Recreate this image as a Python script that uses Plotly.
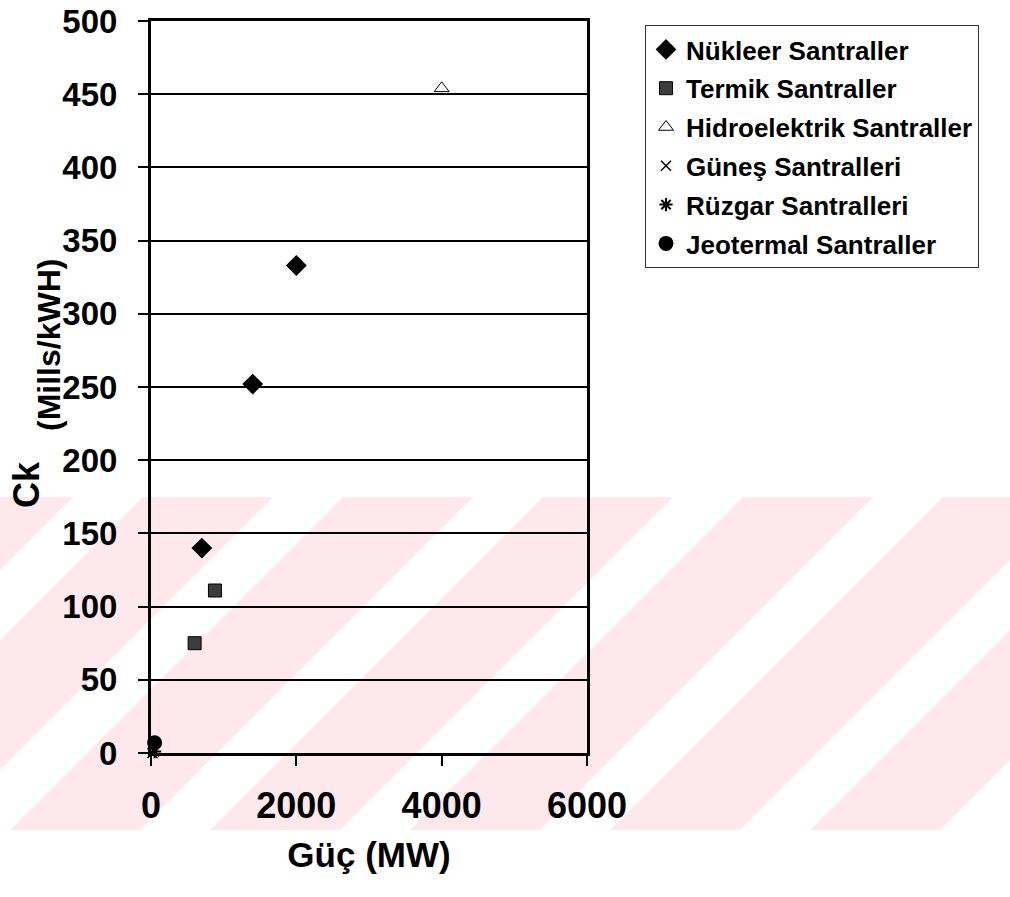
import plotly.graph_objects as go

# ---------------- data ----------------
nukleer_x = [700, 1400, 2000]
nukleer_y = [140, 252, 333]
termik_x = [600, 880]
termik_y = [75, 111]
hidro_x = [4000]
hidro_y = [454]
gunes_x = [20]
gunes_y = [0]
ruzgar_x = [50]
ruzgar_y = [1]
jeo_x = [50]
jeo_y = [7]

series_names = ["Nükleer Santraller", "Termik Santraller", "Hidroelektrik Santraller",
                "Güneş Santralleri", "Rüzgar Santralleri", "Jeotermal Santraller"]
x_ticks = [0, 2000, 4000, 6000]
y_ticks = list(range(0, 501, 50))

# ---------------- layout geometry ----------------
W, H = 1010, 897
L, R, T, B = 151, 587, 21, 753   # plot area in pixels


def px(x):
    return (x - L) / (R - L)


def py(y):
    return (B - y) / (B - T)


FONT = "Liberation Sans, Arial, sans-serif"

fig = go.Figure()

styles = [
    dict(symbol="diamond", size=16, color="black", line=dict(width=0)),
    dict(symbol="square", size=13, color="#3c3c3c", line=dict(width=1, color="black")),
    dict(symbol="triangle-up-open", size=13, color="black", line=dict(width=1, color="black")),
    dict(symbol="x-thin", size=10, color="black", line=dict(width=1.5, color="black")),
    dict(symbol="asterisk", size=11, color="black", line=dict(width=2, color="black")),
    dict(symbol="circle", size=15, color="black", line=dict(width=0)),
]
xs = [nukleer_x, termik_x, hidro_x, gunes_x, ruzgar_x, jeo_x]
ys = [nukleer_y, termik_y, hidro_y, gunes_y, ruzgar_y, jeo_y]

for name, x, y, st in zip(series_names, xs, ys, styles):
    fig.add_trace(go.Scatter(
        x=x, y=y, mode="markers", name=name, legendgroup=name,
        marker=st, cliponaxis=False,
    ))

# watermark-like pink background band
shapes = [dict(type="rect", xref="paper", yref="paper",
               x0=px(0), x1=px(1010), y0=py(830), y1=py(497),
               fillcolor="#fde8ec", line=dict(width=0), layer="below")]
for sx in [-260, -60, 140, 340, 540, 740, 940]:
    path = (f"M {px(sx)} {py(830)} L {px(sx + 70)} {py(830)} "
            f"L {px(sx + 70 + 333)} {py(497)} L {px(sx + 333)} {py(497)} Z")
    shapes.append(dict(type="path", xref="paper", yref="paper", path=path,
                       fillcolor="white", line=dict(width=0), layer="below"))

annotations = [
    dict(text="Ck", xref="paper", yref="paper", x=px(26), y=py(485),
         xanchor="center", yanchor="middle",
         showarrow=False, textangle=-90,
         font=dict(family=FONT, size=36, color="black", weight="bold")),
    dict(text="(Mills/kWH)", xref="paper", yref="paper", x=px(49), y=py(345),
         xanchor="center", yanchor="middle",
         showarrow=False, textangle=-90,
         font=dict(family=FONT, size=32, color="black", weight="bold")),
]

fig.update_layout(
    width=W, height=H,
    margin=dict(l=L, r=W - R, t=T, b=H - B, pad=0, autoexpand=False),
    paper_bgcolor="white",
    plot_bgcolor="rgba(0,0,0,0)",
    font=dict(family=FONT, color="black"),
    showlegend=True,
    legend=dict(
        x=px(645), y=py(25), xanchor="left", yanchor="top",
        bgcolor="white", bordercolor="#333333", borderwidth=1,
        font=dict(family=FONT, size=26, color="black", weight="bold"),
        tracegroupgap=2, itemwidth=30,
    ),
    shapes=shapes,
    annotations=annotations,
    xaxis=dict(
        range=[0, 6000], tickvals=x_ticks, ticktext=[str(v) for v in x_ticks],
        showgrid=False, zeroline=False, automargin=False,
        showline=True, linecolor="black", linewidth=3, mirror=True,
        ticks="outside", ticklen=10, tickwidth=2, tickcolor="black",
        tickfont=dict(family=FONT, size=36, color="black", weight="bold"),
        ticklabelstandoff=9, ticklabeloverflow="allow",
        title=dict(text="Güç (MW)", standoff=18,
                   font=dict(family=FONT, size=35, color="black", weight="bold")),
    ),
    yaxis=dict(
        range=[0, 500], tickvals=y_ticks, ticktext=[str(v) for v in y_ticks],
        showgrid=True, gridcolor="black", gridwidth=1.5, zeroline=False,
        automargin=False,
        showline=True, linecolor="black", linewidth=3, mirror=True,
        ticks="outside", ticklen=10, tickwidth=2, tickcolor="black",
        tickfont=dict(family=FONT, size=33, color="black", weight="bold"),
        ticklabelstandoff=14, ticklabeloverflow="allow",
    ),
)

fig.write_html("out.html")
